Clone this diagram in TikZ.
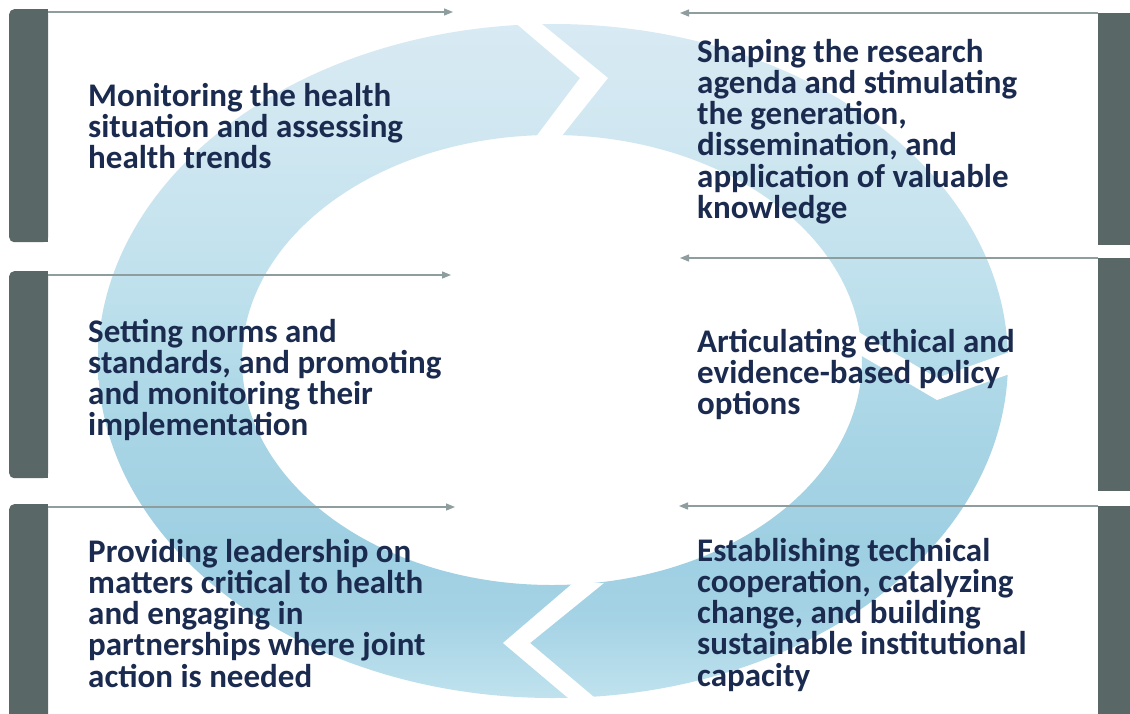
\documentclass[tikz,border=0pt]{standalone}
\usepackage{fontspec}
\setmainfont{Carlito}
\usetikzlibrary{arrows.meta}
\definecolor{barc}{HTML}{5A6767}
\definecolor{arrc}{HTML}{8E9D9E}
\definecolor{txtc}{HTML}{1B2B4F}
\definecolor{rc0}{HTML}{D8EAF3}
\definecolor{rc1}{HTML}{D0E7F1}
\definecolor{rc2}{HTML}{BDE0EC}
\definecolor{rc3}{HTML}{AAD6E6}
\definecolor{rc4}{HTML}{9ECFE2}
\definecolor{rc5}{HTML}{A5D3E5}
\definecolor{rc6}{HTML}{C0E2EE}
\pgfdeclareverticalshading{ringsh}{100bp}{color(0bp)=(rc6); color(25bp)=(rc6); color(30.8bp)=(rc5); color(36bp)=(rc4); color(45.7bp)=(rc3); color(54.6bp)=(rc2); color(66.8bp)=(rc1); color(75bp)=(rc0); color(100bp)=(rc0)}
\tikzset{
  leftbar/.style={fill=barc, rounded corners=5pt, inner sep=0pt, minimum width=39pt, anchor=north west},
  rightbar/.style={fill=barc, inner sep=0pt, minimum width=40pt, anchor=north west},
  conn/.style={draw=arrc, line width=1.3pt, -{Triangle[length=9pt,width=7pt]}},
  txt/.style={font=\fontsize{33}{31.3}\selectfont\bfseries, text=txtc, align=left, inner sep=0pt, anchor=base west},
  gap/.style={fill=white, draw=none}
}
\begin{document}
\begin{tikzpicture}[x=1pt,y=-1pt]
\useasboundingbox[fill=white] (0,0) rectangle (1130,713);
% ring
\shade[shading=ringsh, even odd rule]
  (553,361) ellipse [x radius=455, y radius=337]
  (552,360) ellipse [x radius=310, y radius=225];
% chevron gaps
\fill[gap] (512,20) -- (580,78) -- (532,142) -- (557,142) -- (608,78) -- (537,20) -- cycle;
\fill[gap] (855,330) -- (937,378) -- (1015,350) -- (1015,372) -- (937,400) -- (855,352) -- cycle;
\fill[gap] (573,583) -- (503,643) -- (574,703) -- (601,703) -- (530,643) -- (604,583) -- cycle;
% bars
\node[leftbar, minimum height=233pt] (L1) at (9,9) {};
\node[leftbar, minimum height=207pt] (L2) at (9,271) {};
\node[leftbar, minimum height=230pt] (L3) at (9,504) {};
\foreach \b in {L1,L2,L3} \fill[barc] (\b.north) rectangle (\b.south east);
\node[rightbar, minimum height=232pt] (R1) at (1098,13) {};
\node[rightbar, minimum height=233pt] (R2) at (1098,258) {};
\node[rightbar, minimum height=220pt] (R3) at (1098,506) {};
% arrow targets
\coordinate (LA1) at (453,12);
\coordinate (LA2) at (451,275);
\coordinate (LA3) at (455,507);
\coordinate (RA1) at (680,13);
\coordinate (RA2) at (680,258);
\coordinate (RA3) at (679,506);
\draw[conn] ([yshift=-3pt]L1.north east) -- (LA1);
\draw[conn] ([yshift=-4pt]L2.north east) -- (LA2);
\draw[conn] ([yshift=-3pt]L3.north east) -- (LA3);
\draw[conn] (R1.north west) -- (RA1);
\draw[conn] (R2.north west) -- (RA2);
\draw[conn] (R3.north west) -- (RA3);
% texts (anchored at baseline of last line)
\node[txt] (T1) at (88,168.6) {Monitoring the health\\situation and assessing\\health trends};
\node[txt] (T2) at (88,435.9) {Setting norms and\\standards, and promoting\\and monitoring their\\implementation};
\node[txt] (T3) at (88,687.2) {Providing leadership on\\matters critical to health\\and engaging in\\partnerships where joint\\action is needed};
\node[txt] (T4) at (697,218.5) {Shaping the research\\agenda and stimulating\\the generation,\\dissemination, and\\application of valuable\\knowledge};
\node[txt] (T5) at (697,414.6) {Articulating ethical and\\evidence-based policy\\options};
\node[txt] (T6) at (697,686.2) {Establishing technical\\cooperation, catalyzing\\change, and building\\sustainable institutional\\capacity};
\end{tikzpicture}
\end{document}
